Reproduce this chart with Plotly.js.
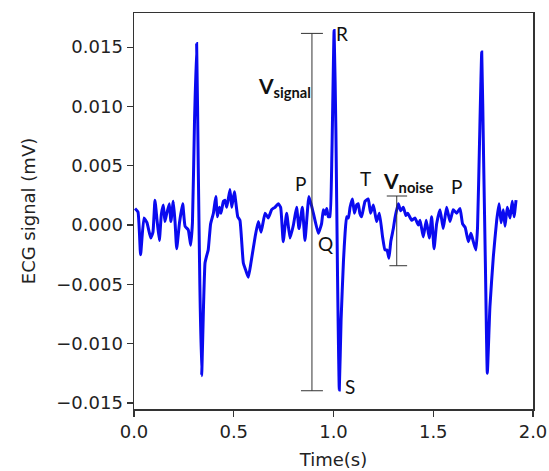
<!DOCTYPE html>
<html>
<head>
<meta charset="utf-8">
<script src="https://cdn.plot.ly/plotly-3.0.1.min.js"></script>
<style>html,body{margin:0;padding:0;background:#fff;}#chart{width:549px;height:471px;}</style>
</head>
<body>
<div id="chart"></div>
<script>
// Time (s)
const timeS = [
  0.005, 0.020, 0.033, 0.050, 0.065, 0.084, 0.095, 0.105, 0.115, 0.127,
  0.137, 0.147, 0.155, 0.163, 0.177, 0.185, 0.197, 0.206, 0.214, 0.228,
  0.244, 0.256, 0.272, 0.284, 0.293, 0.303, 0.314, 0.322, 0.330, 0.339,
  0.349, 0.356, 0.364, 0.372, 0.384, 0.398, 0.410, 0.418, 0.428, 0.436,
  0.448, 0.456, 0.465, 0.481, 0.490, 0.503, 0.520, 0.531, 0.548, 0.560,
  0.573, 0.586, 0.607, 0.623, 0.637, 0.657, 0.673, 0.690, 0.707, 0.723,
  0.735, 0.748, 0.765, 0.782, 0.799, 0.815, 0.827, 0.844, 0.857, 0.877,
  0.899, 0.924, 0.940, 0.949, 0.958, 0.966, 0.974, 0.982, 0.992, 1.003,
  1.012, 1.020, 1.029, 1.038, 1.050, 1.058, 1.066, 1.075, 1.083, 1.095,
  1.105, 1.116, 1.124, 1.132, 1.141, 1.158, 1.174, 1.186, 1.200, 1.216,
  1.230, 1.246, 1.258, 1.268, 1.278, 1.287, 1.300, 1.308, 1.325, 1.337,
  1.350, 1.363, 1.372, 1.392, 1.408, 1.425, 1.434, 1.450, 1.465, 1.480,
  1.492, 1.504, 1.517, 1.534, 1.550, 1.567, 1.584, 1.600, 1.617, 1.634,
  1.647, 1.660, 1.676, 1.689, 1.701, 1.714, 1.722, 1.732, 1.743, 1.752,
  1.762, 1.771, 1.784, 1.801, 1.818, 1.830, 1.840, 1.851, 1.860, 1.871,
  1.885, 1.896, 1.905, 1.915
];
// ECG signal (mV)
const ecgMV = [
  0.0014, 0.0011, -0.0025, 0.0006, 0.0002, -0.0011, -0.0006, 0.0021, 0.0005, -0.0013,
  0.0009, 0.0017, 0.0003, 0.0009, 0.0018, 0.0003, 0.0020, 0.0002, -0.0020, 0.0002,
  0.0018, -0.0001, -0.0004, -0.0017, 0.0002, 0.0085, 0.0153, 0.0050, -0.0050, -0.0127,
  -0.0065, -0.0032, -0.0026, -0.0021, 0.0001, 0.0010, 0.0024, 0.0007, 0.0015, 0.0010,
  0.0020, 0.0021, 0.0015, 0.0030, 0.0015, 0.0028, 0.0007, 0.0004, -0.0032, -0.0038,
  -0.0044, -0.0032, -0.0010, 0.0003, -0.0006, 0.0010, 0.0006, 0.0013, 0.0015, 0.0018,
  0.0015, -0.0014, 0.0010, -0.0011, 0.0000, 0.0015, -0.0003, 0.0015, -0.0013, 0.0024,
  0.0010, -0.0007, 0.0001, 0.0013, 0.0009, 0.0014, 0.0007, 0.0007, 0.0060, 0.0164,
  0.0080, -0.0040, -0.0139, -0.0080, -0.0030, -0.0007, 0.0007, 0.0006, 0.0015, 0.0022,
  0.0010, 0.0017, 0.0018, 0.0010, 0.0007, 0.0020, 0.0022, 0.0010, 0.0017, 0.0003,
  0.0010, -0.0010, -0.0021, -0.0021, -0.0028, -0.0014, -0.0003, 0.0006, 0.0018, 0.0012,
  0.0015, 0.0008, 0.0010, 0.0004, 0.0006, 0.0000, 0.0004, -0.0010, 0.0004, -0.0011,
  0.0007, -0.0020, 0.0001, 0.0013, -0.0003, 0.0015, 0.0003, 0.0013, 0.0010, 0.0014,
  0.0001, -0.0002, -0.0014, -0.0007, -0.0014, -0.0021, -0.0002, 0.0070, 0.0146, 0.0060,
  -0.0040, -0.0125, -0.0069, -0.0027, 0.0004, 0.0018, 0.0002, 0.0013, -0.0001, 0.0015,
  0.0006, 0.0020, 0.0007, 0.0021
];
const xTickVals = [0.0, 0.5, 1.0, 1.5, 2.0];
const yTickVals = [-0.015, -0.010, -0.005, 0.000, 0.005, 0.010, 0.015];

// Measurement markers (data units)
const vSignalX = 0.892, vSignalTop = 0.01616, vSignalBottom = -0.01397;
const vNoiseX = 1.317, vNoiseTop = 0.00245, vNoiseBottom = -0.00343;

const traces = [{
  x: timeS, y: ecgMV, type: 'scatter', mode: 'lines',
  line: {color: '#0a0af0', width: 3, shape: 'spline', smoothing: 0.4},
  hoverinfo: 'skip'
}];

const grey = '#333333';
const shapes = [
  {type:'line', x0:vSignalX, x1:vSignalX, y0:vSignalBottom, y1:vSignalTop, line:{color:grey, width:1}},
  {type:'line', x0:vSignalX-0.055, x1:vSignalX+0.055, y0:vSignalTop, y1:vSignalTop, line:{color:grey, width:1}},
  {type:'line', x0:vSignalX-0.055, x1:vSignalX+0.055, y0:vSignalBottom, y1:vSignalBottom, line:{color:grey, width:1}},
  {type:'line', x0:vNoiseX, x1:vNoiseX, y0:vNoiseBottom, y1:vNoiseTop, line:{color:grey, width:1}},
  {type:'line', x0:vNoiseX-0.05, x1:vNoiseX+0.052, y0:vNoiseTop, y1:vNoiseTop, line:{color:grey, width:1}},
  {type:'line', x0:vNoiseX-0.037, x1:vNoiseX+0.052, y0:vNoiseBottom, y1:vNoiseBottom, line:{color:grey, width:1}}
];

const lblFont = {family:'Lato, "Open Sans", sans-serif', size:19, color:'#111'};
function lbl(text, x, y, extra) {
  return Object.assign({text:text, x:x, y:y, xref:'x', yref:'y', showarrow:false, font:lblFont,
    xanchor:'center', yanchor:'middle'}, extra || {});
}
const annotations = [
  lbl('R', 1.045, 0.01619),
  lbl('P', 0.837, 0.00354),
  lbl('T', 1.158, 0.00396),
  lbl('P', 1.618, 0.00325),
  lbl('Q', 0.960, -0.00156),
  lbl('S', 1.083, -0.01362),
  lbl('<b>V<sub>signal</sub></b>', 0.612, 0.01164, {xanchor:'left', font:Object.assign({}, lblFont, {size:21})}),
  lbl('<b>V<sub>noise</sub></b>', 1.238, 0.00363, {xanchor:'left', font:Object.assign({}, lblFont, {size:21})})
];

const axFont = {family:'"DejaVu Sans", sans-serif', size:18, color:'#222'};
const layout = {
  width: 549, height: 471,
  margin: {l:134, r:16, t:13, b:62, pad:0},
  paper_bgcolor:'#fff', plot_bgcolor:'#fff',
  showlegend: false,
  font: axFont,
  xaxis: {
    range:[0, 2.0], tickvals:xTickVals, tickformat:'.1f',
    ticks:'outside', ticklen:6, tickwidth:1.3, tickcolor:grey,
    showline:true, linecolor:grey, linewidth:1.5, mirror:true,
    showgrid:false, zeroline:false, tickfont:axFont,
    title:{text:'Time(s)', font:axFont, standoff:12}
  },
  yaxis: {
    range:[-0.01551, 0.01788], tickvals:yTickVals, tickformat:'.3f',
    ticks:'outside', ticklen:6, tickwidth:1.3, tickcolor:grey,
    showline:true, linecolor:grey, linewidth:1.5, mirror:true,
    showgrid:false, zeroline:false, tickfont:axFont,
    title:{text:'ECG signal (mV)', font:axFont, standoff:16}
  },
  shapes: shapes,
  annotations: annotations
};
Plotly.newPlot('chart', traces, layout, {displayModeBar:false, staticPlot:true});
</script>
</body>
</html>
